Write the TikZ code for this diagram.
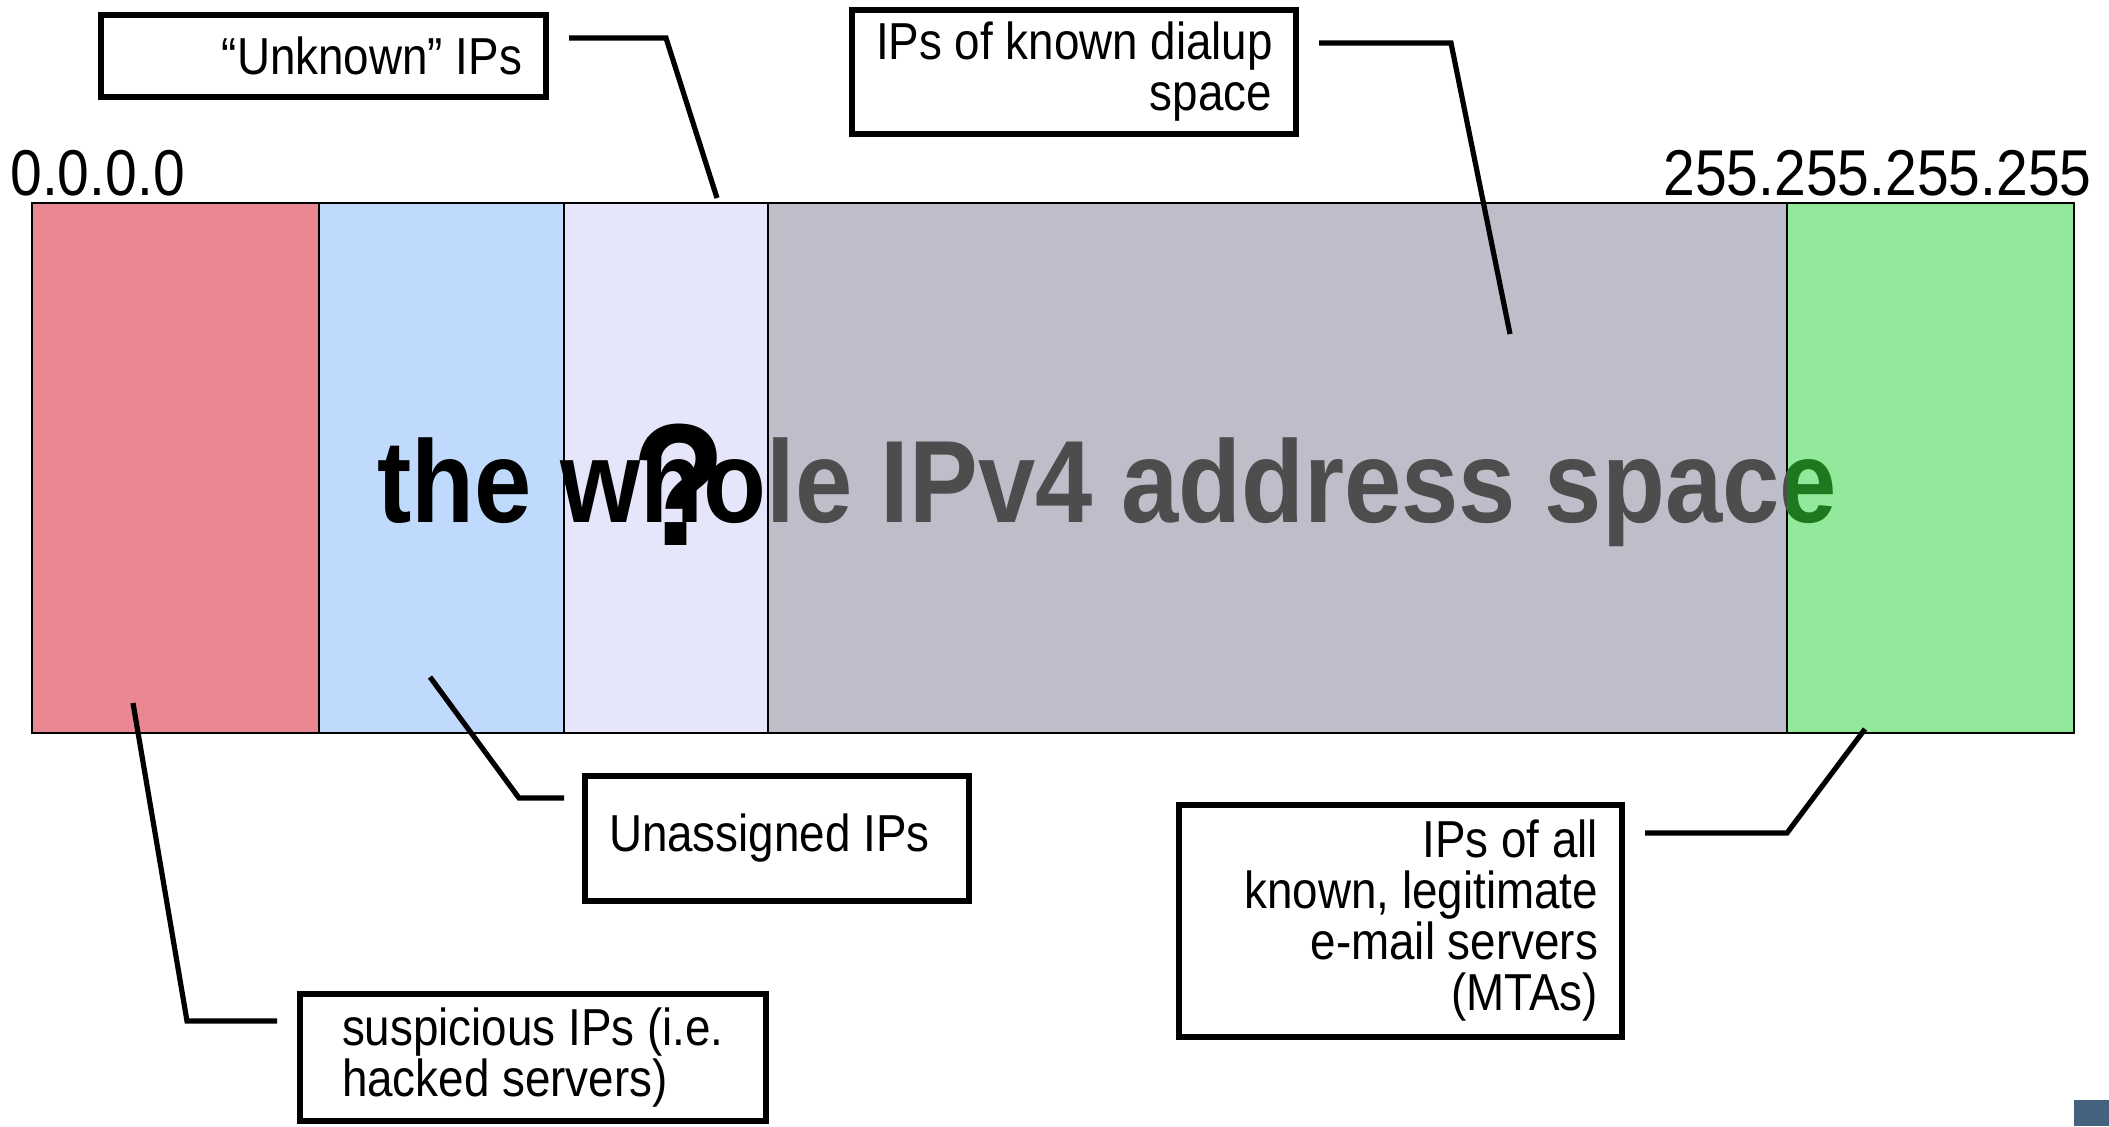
\documentclass[tikz,border=0pt]{standalone}
\usepackage{fontspec}
\setmainfont{Liberation Sans}[FakeStretch=0.88]
\usetikzlibrary{calc}

\definecolor{segred}{HTML}{E98892}
\definecolor{segblue}{HTML}{BFDAFC}
\definecolor{seglav}{HTML}{E6E6FA}
\definecolor{seggray}{HTML}{BEBECA}
\definecolor{seggreen}{HTML}{92E89B}
\definecolor{txtgray}{HTML}{4D4D4D}
\definecolor{txtgreen}{HTML}{1E781E}
\definecolor{cornerblue}{HTML}{44627D}

\tikzset{
  tightspace/.style={execute at begin node={\spaceskip=0.245em\relax}},
  lbox/.style={draw, line width=3pt, rectangle, inner ysep=0pt, inner xsep=12pt,
    font=\fontsize{26}{25.5}\selectfont, tightspace},
  conn/.style={line width=2.6pt},
  seg/.style={draw, line width=1pt},
  bignum/.style={font=\fontsize{32.4}{36}\selectfont, inner sep=0pt},
  bigtxt/.style={font=\fontsize{58.5}{60}\selectfont\bfseries, inner sep=0pt,
    anchor=base west, tightspace},
}

\begin{document}
\begin{tikzpicture}[x=0.5pt,y=-0.5pt]
\useasboundingbox (0,0) rectangle (2109,1126);

% address space bar, split into ranges
\filldraw[seg, fill=segred]   (32,203)   rectangle (319,733);
\filldraw[seg, fill=segblue]  (319,203)  rectangle (564,733);
\filldraw[seg, fill=seglav]   (564,203)  rectangle (768,733);
\filldraw[seg, fill=seggray]  (768,203)  rectangle (1787,733);
\filldraw[seg, fill=seggreen] (1787,203) rectangle (2074,733);

% range limits
\node[bignum, anchor=base west] (lo) at (10,195) {0.0.0.0};
\node[bignum, anchor=base east] (hi) at (2092,195) {255.255.255.255};

% title across the bar, tinted per range
\begin{scope}
  \clip (0,203) rectangle (768,733);
  \node[bigtxt, text=black] (bigA) at (377,522) {the whole IPv4 address space};
\end{scope}
\begin{scope}
  \clip (768,203) rectangle (1787,733);
  \node[bigtxt, text=txtgray] (bigB) at (377,522) {the whole IPv4 address space};
\end{scope}
\begin{scope}
  \clip (1787,203) rectangle (2074,733);
  \node[bigtxt, text=txtgreen] (bigC) at (377,522) {the whole IPv4 address space};
\end{scope}
\node[font=\fontsize{87}{90}\selectfont\bfseries, inner sep=0pt, anchor=base] (qm) at (679,545) {?};

% callout boxes
\node[lbox, minimum width=222.5pt, minimum height=41pt, text width=198.5pt, align=right]
  (unk) at (323.5,56) {\mbox{“Unknown” IPs}};
\node[lbox, minimum width=222pt, minimum height=62pt, text width=198pt, align=right]
  (dial) at (1074,72) {\mbox{IPs of known dialup}\\\mbox{space}};
\node[lbox, minimum width=192pt, minimum height=62.5pt, text width=168pt, align=left]
  (unas) at (777,838.5) {\mbox{Unassigned IPs}};
\node[lbox, inner xsep=21pt, minimum width=233pt, minimum height=63.5pt, text width=191pt, align=left]
  (susp) at (533,1057.5) {\mbox{suspicious IPs (i.e.}\\\mbox{hacked servers)}};
\node[lbox, minimum width=221.5pt, minimum height=116pt, text width=197.5pt, align=right]
  (mta) at (1400.5,921) {\mbox{IPs of all}\\\mbox{known, legitimate}\\\mbox{e-mail servers}\\\mbox{(MTAs)}};

% pointer ends inside the bar
\coordinate (unkTip)  at (717,198);
\coordinate (dialTip) at (1510,334);
\coordinate (unasTip) at (430,677);
\coordinate (suspTip) at (133,703);
\coordinate (mtaTip)  at (1865,729);

% callout leaders
\draw[conn] ([shift={(20,26)}]unk.north east)  -- ++(97,0)  -- (unkTip);
\draw[conn] ([shift={(20,36)}]dial.north east) -- ++(132,0) -- (dialTip);
\draw[conn] ([shift={(-18,25)}]unas.north west) -- ++(-45,0) -- (unasTip);
\draw[conn] ([shift={(-20,30)}]susp.north west) -- ++(-90,0) -- (suspTip);
\draw[conn] ([shift={(20,31)}]mta.north east)  -- ++(142,0) -- (mtaTip);

% corner mark
\fill[cornerblue] (2074,1100) rectangle (2109,1126);
\end{tikzpicture}
\end{document}
